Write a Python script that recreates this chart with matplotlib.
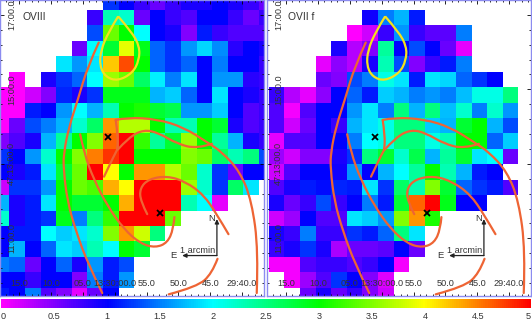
import numpy as np
import matplotlib
matplotlib.use("Agg")
import matplotlib.pyplot as plt
from matplotlib.colors import LinearSegmentedColormap
from matplotlib.path import Path
from matplotlib.patches import PathPatch

plt.rcParams["font.family"] = ["Liberation Sans", "DejaVu Sans"]

n = np.nan

# surface brightness per cell, top row first
oviii = [
    [n, n, n, n, n, n, n, 1.2, 1.0, 0.8, 0.6, 0.8, 0.9, 0.9, 1.0, 0.9, 0.8, 0.6],
    [n, n, n, n, n, n, 0.8, 2.3, 2.2, 0.6, 1.0, 0.8, 0.7, 1.0, 1.0, 0.8, 0.6, 0.8],
    [n, n, n, n, n, n, 1.3, 3.4, 3.0, 2.0, 1.0, 0.9, 0.5, 1.1, 0.8, 0.7, 0.7, 0.7],
    [n, n, n, n, n, 0.6, 2.0, 2.8, 3.9, 2.9, 1.4, 1.2, 1.6, 1.85, 1.55, 0.85, 1.0, 0.9],
    [n, n, n, n, 1.9, 1.6, 1.9, 4.2, 4.7, 3.0, 1.4, 1.2, 1.4, 1.0, 1.5, 1.0, 1.0, 0.8],
    [n, 0.0, n, 0.9, 1.2, 1.4, 2.0, 3.6, 3.4, 2.6, 1.95, 1.5, 1.9, 1.0, 1.6, 1.6, 0.85, 0.8],
    [0.0, 0.0, 0.2, 0.5, 1.15, 0.9, 1.2, 2.9, 2.9, 2.9, 1.7, 1.8, 1.4, 1.0, 1.9, 1.0, 0.9, 0.8],
    [0.0, 0.0, 1.1, 1.0, 1.6, 2.0, 1.7, 2.3, 3.0, 3.1, 2.8, 2.7, 1.6, 1.6, 1.8, 1.0, 0.7, 0.8],
    [0.0, 0.6, 1.3, 1.5, 1.7, 2.2, 2.6, 4.4, 3.7, 3.7, 3.0, 2.3, 2.3, 3.0, 2.8, 0.9, 0.7, 0.8],
    [0.5, 0.7, 0.9, 1.7, 2.4, 3.0, 3.5, 4.6, 5.0, 3.2, 2.4, 2.8, 3.6, 3.0, 2.4, 1.7, 0.9, 0.8],
    [1.2, 1.0, 1.6, 2.2, 3.0, 3.5, 4.5, 4.8, 5.0, 3.0, 3.0, 3.0, 3.5, 3.4, 2.6, 2.3, 2.5, 1.3],
    [1.0, 0.9, 1.1, 1.9, 2.8, 3.4, 5.0, 4.0, 3.0, 4.4, 4.4, 3.7, 3.4, 2.2, 1.2, 0.6, 1.0, 1.0],
    [0.2, 1.2, 1.2, 1.6, 3.0, 3.4, 3.3, 4.3, 4.0, 5.0, 5.0, 5.0, 3.6, 2.2, 1.2, 2.6, 1.9, n],
    [1.7, 0.9, 1.1, 1.9, 3.0, 2.8, 2.8, 3.0, 4.3, 5.0, 5.0, 5.0, 2.3, 2.0, 0.1, n, n, n],
    [2.2, 0.9, 1.1, 1.2, 2.9, 1.5, 2.5, 3.2, 5.0, 5.0, 5.0, 3.4, n, n, n, n, n, n],
    [1.0, 1.1, 1.1, 2.0, 1.8, 1.9, 2.2, 3.5, 4.4, 3.8, 2.5, n, n, n, n, n, n, n],
    [1.0, 1.7, 1.0, 1.4, 1.9, 1.8, 2.3, 2.0, 3.0, 2.8, n, n, n, n, n, n, n, n],
    [1.5, 1.4, 0.6, 1.0, 1.4, 0.9, 1.6, 1.1, 1.3, n, n, n, n, n, n, n, n, n],
    [1.0, 1.0, 0.8, 1.0, 1.0, 0.5, 1.5, 1.1, 1.6, n, n, n, n, n, n, n, n, n],
    [1.1, 1.0, 1.5, 0.7, 0.5, 0.1, 0.6, 1.0, n, n, n, n, n, n, n, n, n, n],
]

ovii_f = [
    [n, n, n, n, n, n, n, n, n, n, n, n, n, n, n, n],
    [n, n, n, n, n, n, 0.95, 1.5, 1.7, 1.1, n, n, n, n, n, n],
    [n, n, n, n, n, 0.0, 0.2, 0.8, 1.6, 0.8, 0.65, 0.65, 1.5, n, n, n],
    [n, n, n, n, 0.9, 0.3, 0.5, 2.4, 1.0, 1.3, 1.0, 0.6, 0.1, n, n, n],
    [n, n, n, 0.1, 0.45, 0.3, 0.9, 2.3, 1.3, 0.5, 0.8, 1.1, 1.5, n, n, n],
    [n, n, n, 0.6, 0.5, 1.3, 1.5, 2.1, 1.9, 1.1, 1.9, 1.85, 1.4, 1.2, 1.0, n],
    [0.8, 0.3, 0.1, 0.45, 1.0, 1.4, 1.1, 1.8, 1.7, 1.5, 1.6, 1.5, 1.75, 2.1, 2.1, 2.5],
    [0.7, 0.05, 0.7, 1.0, 1.0, 1.6, 1.9, 1.5, 2.5, 1.7, 2.5, 1.75, 2.2, 1.5, 2.2, 1.6],
    [0.7, 0.2, 0.6, 1.0, 0.8, 1.7, 1.9, 2.1, 2.5, 2.5, 1.8, 1.7, 2.8, 3.0, 1.7, 1.3],
    [0.1, 0.7, 0.7, 1.0, 1.0, 1.5, 2.0, 2.1, 2.5, 2.5, 2.1, 2.3, 3.0, 3.0, 1.4, 1.8],
    [0.4, 0.2, 0.5, 0.5, 0.9, 1.2, 2.5, 2.8, 2.2, 2.7, 1.7, 2.4, 2.8, 1.9, 2.0, 0.6],
    [0.2, 0.7, 1.0, 1.0, 0.95, 1.6, 1.0, 1.7, 2.0, 2.4, 3.0, 2.3, 1.7, 1.1, 1.0, n],
    [0.7, 0.9, 1.1, 1.05, 1.15, 1.1, 1.9, 1.2, 2.6, 2.3, 3.5, 2.8, 1.4, 1.2, 1.1, 0.7],
    [0.9, 0.6, 0.8, 1.3, 0.8, 1.0, 1.5, 1.1, 2.8, 4.6, 5.0, 2.9, 1.0, 1.0, n, n],
    [0.2, 0.4, 1.0, 0.7, 0.7, 1.9, 1.8, 1.6, 3.5, 4.4, 3.1, n, n, n, n, n],
    [0.9, 0.8, 1.5, 0.8, 0.8, 1.2, 1.1, 1.4, 2.5, 1.9, n, n, n, n, n, n],
    [0.8, 0.9, 1.2, 0.9, 0.35, 0.6, 0.6, 0.65, 1.0, 0.6, n, n, n, n, n, n],
    [0.05, 0.05, 0.7, 0.8, 0.8, 0.7, 0.8, 1.0, 0.05, n, n, n, n, n, n, n],
    [n, 0.05, 0.4, 0.7, 1.2, 1.0, 0.5, 0.15, n, n, n, n, n, n, n, n],
    [n, n, 0.6, 0.9, 0.6, 0.8, 0.5, 0.2, n, n, n, n, n, n, n, n],
]

x_labels = ["15.0", "10.0", "05.0", "13:30:00.0", "55.0", "50.0", "45.0", "29:40.0"]
y_labels = ["17:00.0", "15:00.0", "47:13:00.0", "11:00.0"]
cbar_ticks = [0, 0.5, 1, 1.5, 2, 2.5, 3, 3.5, 4, 4.5, 5]
cbar_labels = ["0", "0.5", "1", "1.5", "2", "2.5", "3", "3.5", "4", "4.5", "5"]

# region outlines, in panel pixels
yellow = [(117.5, 12.5), (131, 28), (139, 43), (138.5, 57), (132, 70), (117, 78),
          (105, 74), (99, 63), (100, 47), (108, 28), (117.5, 12.5)]
orange = [
    [(98, 39), (87, 63), (77, 97), (68, 125), (63, 150), (62.5, 167), (66.5, 200),
     (75, 230), (87, 263), (101.5, 293)],
    [(79.3, 132), (83, 150), (93, 178), (107, 205), (123, 228), (140, 243), (155, 247),
     (167, 242), (173, 228), (174, 216)],
    [(115, 117.5), (117.3, 133), (116.7, 148), (115, 150), (103.3, 175)],
    [(116.7, 148), (128.3, 135), (143.3, 127.3), (158.3, 130.7), (176.7, 141.7),
     (196.7, 146.7), (211.7, 141.7)],
    [(115, 117.5), (126.7, 115), (156.7, 116.7), (183.3, 125), (206.7, 140), (221.7, 150),
     (240, 170), (251.7, 200), (258.3, 250), (256.7, 293)],
    [(146.7, 213), (140, 200), (139.3, 186.7), (148.3, 177.3), (166.7, 174.3), (185, 180),
     (203.3, 193.3), (216.7, 213.3), (228.3, 233.3)],
    [(217.3, 258.3), (211.7, 273.3), (196.7, 286.7), (168.3, 294.3)],
]
crosses = [(107.7, 134.3), (159.3, 212.3)]


def smooth(pts):
    pts = np.array(pts, float)
    verts = [pts[0]]
    codes = [Path.MOVETO]
    for i in range(1, len(pts) - 1):
        end = pts[i + 1] if i == len(pts) - 2 else (pts[i] + pts[i + 1]) / 2
        verts += [pts[i], end]
        codes += [Path.CURVE3, Path.CURVE3]
    return Path(verts, codes)


cmap = LinearSegmentedColormap.from_list(
    "hue", ["#ff00ff", "#0000ff", "#00ffff", "#00ff00", "#ffff00", "#ff0000"]
)
cmap.set_bad("white")

W, H = 532, 325
fig = plt.figure(figsize=(W / 100, H / 100), dpi=100)
PW, PH = 264, 296
frame = "#8c8cf0"
text_c = "#333333"


def panel(x0, grid, gx0, gy0, label, label_x):
    ax = fig.add_axes([x0 / W, 1 - PH / H, PW / W, PH / H])
    grid = np.array(grid, float)
    xe = gx0 + 15.67 * np.arange(grid.shape[1] + 1)
    ye = gy0 + 15.65 * np.arange(grid.shape[0] + 1)
    mesh = ax.pcolormesh(xe, ye, np.ma.masked_invalid(grid), cmap=cmap, vmin=0, vmax=5)
    ax.set_xlim(0, PW)
    ax.set_ylim(PH, 0)

    xt = 18 + 32 * np.arange(8)
    yt = 11 + 75.5 * np.arange(4)
    ax.set_xticks(xt, x_labels)
    ax.set_yticks(yt, y_labels)
    ax.set_xticks(np.arange(-1.2, PW, 6.4), minor=True)
    ax.set_yticks(np.arange(-4.1, PH, 15.1), minor=True)
    ax.tick_params(which="both", direction="in", top=True, right=True, color="black", width=0.6)
    ax.tick_params(which="major", length=3, labelsize=6.6, labelcolor=text_c)
    ax.tick_params(which="minor", length=1.5)
    ax.tick_params(axis="x", which="major", pad=-12)
    ax.tick_params(axis="y", which="major", pad=-11.5)
    for t in ax.get_yticklabels():
        t.set_rotation(90)
        t.set_va("center")
    for s in ax.spines.values():
        s.set_color(frame)
        s.set_linewidth(1)

    ax.add_patch(PathPatch(smooth(yellow), fc="none", ec="#f4e21c", lw=1.6))
    for c in orange:
        ax.add_patch(PathPatch(smooth(c), fc="none", ec="#ee6434", lw=1.6, capstyle="round"))
    for cx, cy in crosses:
        ax.plot(cx, cy, marker="x", ms=4, mew=1.3, color="black", clip_on=False)

    ax.annotate("", xy=(216.7, 218), xytext=(216.7, 255),
                arrowprops=dict(arrowstyle="-|>,head_width=0.12,head_length=0.25", color="#222222", lw=0.9, shrinkA=0, shrinkB=0))
    ax.annotate("", xy=(181.7, 255), xytext=(216.7, 255),
                arrowprops=dict(arrowstyle="-|>,head_width=0.12,head_length=0.25", color="#222222", lw=0.9, shrinkA=0, shrinkB=0))
    ax.text(211, 217, "N", fontsize=6.8, color=text_c, ha="center", va="center")
    ax.text(173, 255, "E", fontsize=6.8, color=text_c, ha="center", va="center")
    ax.text(197, 250, "1 arcmin", fontsize=6.6, color=text_c, ha="center", va="center")
    ax.text(label_x, 13.5, label, fontsize=7.4, color=text_c, ha="left", va="center")
    return mesh


mesh = panel(0, oviii, -7.4, -9.7, "OVIII", 21.7)
panel(267, ovii_f, 0.7, -9.7, "OVII f", 19.7)

cax = fig.add_axes([1 / W, 1 - 308 / H, 530 / W, 9 / H])
cb = fig.colorbar(mesh, cax=cax, orientation="horizontal")
cb.set_ticks(cbar_ticks, labels=cbar_labels)
cb.ax.tick_params(length=0, pad=3, labelsize=6.6, labelcolor=text_c)
cb.outline.set_visible(False)
# keep the two end labels inside the picture
tl = cb.ax.get_xticklabels()
tl[0].set_ha("left")
tl[-1].set_ha("right")

fig.savefig("out.png", dpi=100)
